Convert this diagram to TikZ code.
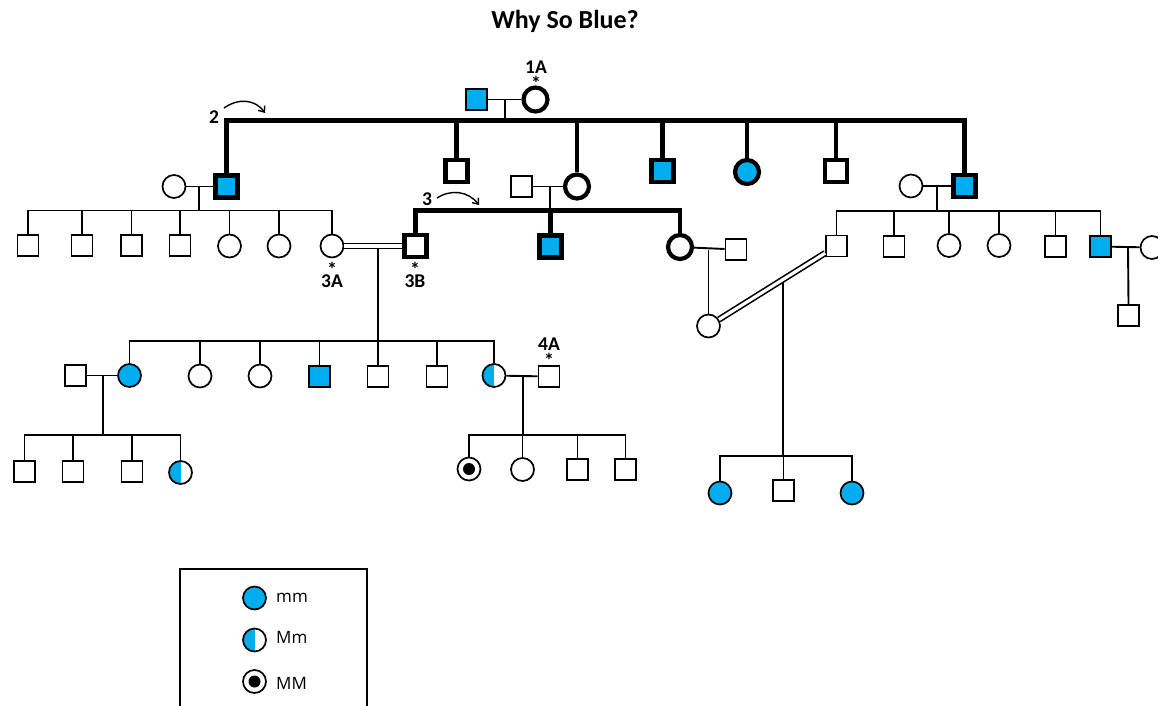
\documentclass[tikz,border=0pt]{standalone}
\usepackage{fontspec}
\setmainfont{Carlito}
\newfontfamily\legfont{Open Sans}
\usetikzlibrary{arrows.meta,calc}
\definecolor{pblue}{RGB}{0,174,239}
\newcommand{\astmark}{\raisebox{-0.33em}[0.31em][0pt]{*}}
\begin{document}
\begin{tikzpicture}[x=1pt,y=-1pt,
  conn/.style={line width=1.9pt},
  tconn/.style={line width=4.6pt},
  dbl/.style={double,double distance=3.2pt,line width=1.6pt},
  sq/.style={draw,rectangle,line width=1.7pt,minimum size=21pt,inner sep=0pt},
  ci/.style={draw,circle,line width=1.7pt,minimum size=23pt,inner sep=0pt},
  tsq/.style={draw,rectangle,line width=4.2pt,minimum size=22pt,inner sep=0pt},
  tci/.style={draw,circle,line width=4.2pt,minimum size=24pt,inner sep=0pt},
  aff/.style={fill=pblue},
  half/.style={path picture={\fill[pblue] (path picture bounding box.north west) rectangle (path picture bounding box.south);}},
  hom/.style={path picture={\fill[black] (path picture bounding box.center) circle[radius=6pt];}},
  lbl/.style={font=\bfseries\fontsize{19.5}{19.5}\selectfont,inner sep=0pt},
  ast/.style={font=\bfseries\fontsize{20}{20}\selectfont,inner sep=0pt},
  legtxt/.style={font=\legfont\fontsize{17}{17}\selectfont,inner sep=0pt,anchor=base west},
  gen/.style={line width=1.4pt,-{Straight Barb[length=5pt,width=8pt]}}
]
\useasboundingbox (0,0) rectangle (1158,705);
% title
\node[font=\bfseries\fontsize{26}{26}\selectfont,inner sep=0pt,anchor=base] (title) at (565,28) {Why So Blue?};

% Generation I
\node[sq,aff] (I1) at (476.5,99.5) {};
\node[tci] (I2) at (535.5,99.5) {};
\node[lbl] (l1A) at (536,67.5) {1A};
\node[ast] (a1A) at (536,80.5) {\astmark};
\draw[conn] (I1) -- (I2);
\coordinate (mI) at (505,99.5);
\coordinate (sibI) at (505,120.5);
\draw[conn] (mI) -- (sibI);

% Generation II
\node[tsq,aff] (IIa) at (226.5,186.5) {};
\node[ci] (IIaS) at (174,186.5) {};
\node[tsq] (IIb) at (456.5,171) {};
\node[tci] (IIc) at (577,186.5) {};
\node[sq] (IIcS) at (521.5,186.5) {};
\node[tsq,aff] (IId) at (662.5,171) {};
\node[tci,aff] (IIe) at (747,172) {};
\node[tsq] (IIf) at (836,171) {};
\node[tsq,aff] (IIg) at (964.5,186) {};
\node[ci] (IIgS) at (911,186) {};
\draw[tconn] (IIa.north) -- (IIa.north |- sibI) -| (IIg.north);
\foreach \n in {IIb,IIc,IId,IIe,IIf}
  \draw[tconn] (\n.north) -- (\n.north |- sibI);
\node[lbl] (l2) at (214,117.5) {2};
\coordinate (g2s) at (224,108);
\coordinate (g2e) at (265,113);
\draw[gen] (g2s) .. controls (238,98) and (255,99) .. (g2e);

% left family
\draw[conn] (IIaS) -- (IIa);
\coordinate (mA) at (199,186.5);
\coordinate (sA) at (199,210.5);
\draw[conn] (mA) -- (sA);
\node[sq] (L1) at (28,245.5) {};
\node[sq] (L2) at (82,245.5) {};
\node[sq] (L3) at (131.5,245.5) {};
\node[sq] (L4) at (180,245.5) {};
\node[ci] (L5) at (229.5,246) {};
\node[ci] (L6) at (279,246) {};
\node[ci] (L7) at (332,246) {};
\draw[conn] (L1.north) -- (L1.north |- sA) -| (L7.north);
\foreach \n in {L2,L3,L4,L5,L6}
  \draw[conn] (\n.north) -- (\n.north |- sA);
\node[ast] (a3A) at (332,267) {\astmark};
\node[lbl] (l3A) at (332,281.5) {3A};

% Generation III (centre)
\draw[conn] (IIcS) -- (IIc);
\coordinate (mC) at (550,186.5);
\coordinate (sC) at (550,210.7);
\draw[conn] (mC) -- (sC);
\node[tsq] (IIIa) at (415.5,246) {};
\node[tsq,aff] (IIIb) at (550.5,246.5) {};
\node[tci] (IIIc) at (680,247) {};
\draw[tconn] (IIIa.north) -- (IIIa.north |- sC) -| (IIIc.north);
\draw[tconn] (IIIb.north) -- (IIIb.north |- sC);
\node[lbl] (l3) at (427,199) {3};
\coordinate (g3s) at (437,198);
\coordinate (g3e) at (479,205);
\draw[gen] (g3s) .. controls (451,189) and (468,191) .. (g3e);
\node[ast] (a3B) at (415,267) {\astmark};
\node[lbl] (l3B) at (415,281) {3B};

% 3A x 3B
\draw[dbl] (L7) -- (IIIa);
\coordinate (mD) at (377.7,248);
\coordinate (sD) at (377.7,340.7);
\draw[conn] (mD) -- (sD);

% Generation IV
\node[ci,aff] (IV1) at (129.5,375.5) {};
\node[sq] (IV1S) at (75.5,375.5) {};
\node[ci] (IV2) at (200,376) {};
\node[ci] (IV3) at (260,376) {};
\node[sq,aff] (IV4) at (319.5,376.5) {};
\node[sq] (IV5) at (378,376.5) {};
\node[sq] (IV6) at (437,376.5) {};
\node[ci,half] (IV7) at (494,375.5) {};
\node[sq] (IV7S) at (549,376.5) {};
\node[lbl] (l4A) at (549,344.5) {4A};
\node[ast] (a4A) at (549,358) {\astmark};
\draw[conn] (IV1.north) -- (IV1.north |- sD) -| (IV7.north);
\foreach \n in {IV2,IV3,IV4,IV5,IV6}
  \draw[conn] (\n.north) -- (\n.north |- sD);

% IV1 family
\draw[conn] (IV1S) -- (IV1);
\coordinate (mE) at (102.7,375.7);
\coordinate (sE) at (102.7,435);
\draw[conn] (mE) -- (sE);
\node[sq] (V1) at (24.5,471.5) {};
\node[sq] (V2) at (73,471.5) {};
\node[sq] (V3) at (132,471.5) {};
\node[ci,half] (V4) at (180.5,472.5) {};
\draw[conn] (V1.north) -- (V1.north |- sE) -| (V4.north);
\foreach \n in {V2,V3}
  \draw[conn] (\n.north) -- (\n.north |- sE);

% IV7 family
\draw[conn] (IV7) -- (IV7S);
\coordinate (mF) at (522.7,375.7);
\coordinate (sF) at (522.7,435);
\draw[conn] (mF) -- (sF);
\node[ci,hom] (V5) at (469,469) {};
\node[ci] (V6) at (522.5,469.5) {};
\node[sq] (V7) at (577.5,469.5) {};
\node[sq] (V8) at (625.5,469.5) {};
\draw[conn] (V5.north) -- (V5.north |- sF) -| (V8.north);
\foreach \n in {V6,V7}
  \draw[conn] (\n.north) -- (\n.north |- sF);

% IIIc family
\node[sq] (IIIcS) at (736,249.5) {};
\draw[conn] (IIIc) -- (IIIcS);
\coordinate (mG) at (708.5,249.5);
\node[ci] (IVr) at (708.5,326) {};
\draw[conn] (mG) -- (IVr.north);

% right family
\draw[conn] (IIgS) -- (IIg);
\coordinate (mH) at (937,186);
\coordinate (sH) at (937,211);
\draw[conn] (mH) -- (sH);
\node[sq] (RF1) at (836.5,246) {};
\node[sq] (RF2) at (894,246.5) {};
\node[ci] (RF3) at (949,245.5) {};
\node[ci] (RF4) at (999,245.5) {};
\node[sq] (RF5) at (1055.5,246.5) {};
\node[sq,aff] (RF6) at (1100.5,246.5) {};
\node[ci] (RF6S) at (1152,247.5) {};
\draw[conn] (RF1.north) -- (RF1.north |- sH) -| (RF6.north);
\foreach \n in {RF2,RF3,RF4,RF5}
  \draw[conn] (\n.north) -- (\n.north |- sH);
\draw[conn] (RF6) -- (RF6S);
\coordinate (mJ) at (1128,247.5);
\node[sq] (RF7) at (1128.5,315.5) {};
\draw[conn] (mJ) -- (RF7.north);

% consanguineous union IVr x RF1
\draw[dbl] (IVr) -- (RF1);
\coordinate (mK) at (783,282);
\coordinate (sK) at (783,456);
\draw[conn] (mK) -- (sK);
\node[ci,aff] (Vr1) at (720,493) {};
\node[sq] (Vr2) at (783.5,490.5) {};
\node[ci,aff] (Vr3) at (852,493) {};
\draw[conn] (Vr1.north) -- (Vr1.north |- sK) -| (Vr3.north);
\draw[conn] (Vr2.north) -- (Vr2.north |- sK);

% legend
\draw[line width=1.4pt] (180,569) rectangle (367,720);
\node[ci,aff] (k1) at (254.5,598) {};
\node[ci,half] (k2) at (254.5,640) {};
\node[ci,hom] (k3) at (254.5,681.5) {};
\node[legtxt] (t1) at (276,602) {mm};
\node[legtxt] (t2) at (276,643) {Mm};
\node[legtxt] (t3) at (276,689) {MM};
\end{tikzpicture}
\end{document}
